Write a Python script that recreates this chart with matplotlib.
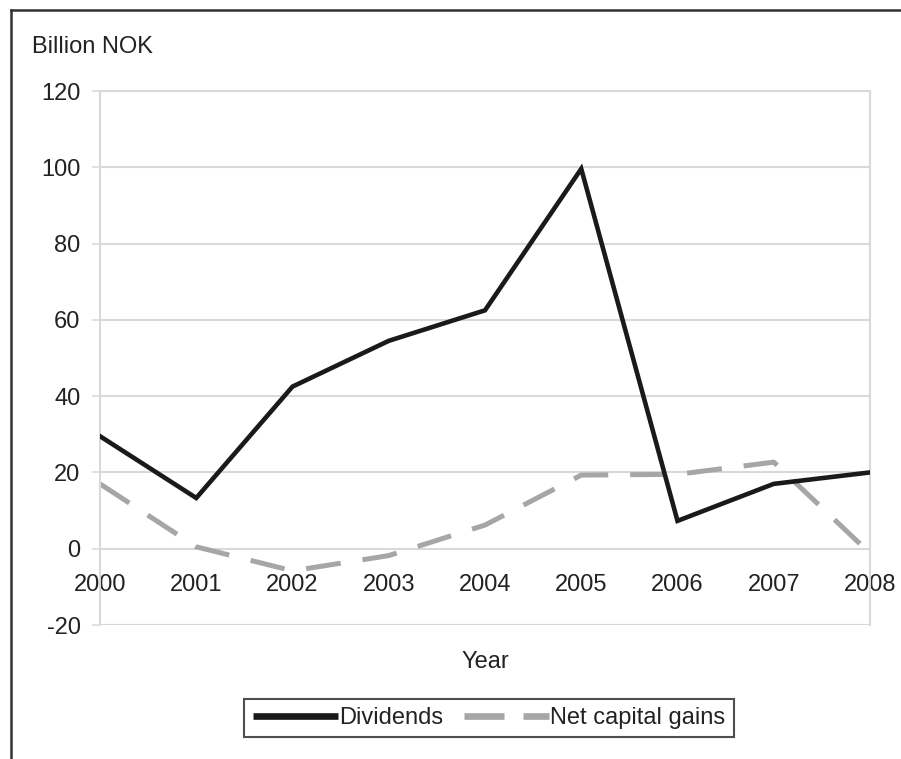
import matplotlib
matplotlib.use("Agg")
import matplotlib.pyplot as plt
from matplotlib.lines import Line2D

plt.rcParams['font.family'] = ['Liberation Sans', 'DejaVu Sans']
plt.rcParams['axes.unicode_minus'] = False

years = [2000, 2001, 2002, 2003, 2004, 2005, 2006, 2007, 2008]
dividends = [29.5, 13.3, 42.5, 54.5, 62.5, 99.6, 7.3, 17.0, 20.0]
net_capital_gains = [17.0, 0.5, -5.8, -1.8, 6.2, 19.3, 19.5, 22.7, -1.2]
y_ticks = [-20, 0, 20, 40, 60, 80, 100, 120]
grid_years = [2000, 2002, 2004, 2006, 2008]

W, H = 901, 759
fig = plt.figure(figsize=(W / 100, H / 100), dpi=100)
ax = fig.add_axes([100 / W, 1 - 625 / H, 770 / W, 534 / H])

grid_c = '#d9d9d9'
text_c = '#222222'
fs = 17

ax.plot(years, dividends, color='#1a1a1a', lw=3.3, solid_joinstyle='miter',
        label='Dividends', zorder=3)
ax.plot(years, net_capital_gains, color='#a6a6a6', lw=3.6, dashes=(7, 4.4),
        label='Net capital gains', zorder=2)

ax.set_xlim(2000, 2008)
ax.set_ylim(-20, 120)
ax.set_yticks(y_ticks)
ax.set_xticks(years)
ax.set_xticks(grid_years, minor=True)

for s in ['top', 'right', 'left']:
    ax.spines[s].set_color(grid_c)
    ax.spines[s].set_linewidth(1.5)
ax.spines['bottom'].set_position(('data', 0))
ax.spines['bottom'].set_visible(False)

ax.grid(axis='y', which='major', color=grid_c, lw=1.5)
ax.grid(axis='x', which='minor', color=grid_c, lw=1.5)
ax.grid(axis='x', which='major', visible=False)
ax.axhline(-20, color=grid_c, lw=1.5, zorder=0)

ax.tick_params(axis='y', length=6, width=1.1, color=grid_c, pad=8,
               labelsize=fs, labelcolor=text_c)
ax.tick_params(axis='x', which='both', length=0, pad=18, labelsize=fs,
               labelcolor=text_c)

fig.text(485 / W, 1 - 662 / H, 'Year', ha='center', va='center',
         fontsize=fs, color=text_c)
fig.text(32 / W, 1 - 47 / H, 'Billion NOK', ha='left', va='center',
         fontsize=fs, color=text_c)

leg = fig.legend(loc='center', bbox_to_anchor=(489 / W, 1 - 718 / H),
                 ncol=2, frameon=True, fancybox=False, fontsize=fs,
                 handlelength=3.6, handletextpad=0.05, columnspacing=0.9,
                 borderpad=0.35, labelcolor=text_c)
leg.get_frame().set_edgecolor('#222222')
leg.get_frame().set_linewidth(1.5)
hl = leg.get_lines()
for h in hl:
    h.set_linewidth(4.8)
    h.set_solid_capstyle('butt')
    h.set_dash_capstyle('butt')
hl[1].set_dashes((6, 2.85))

fig.add_artist(Line2D([11 / W, 1], [1 - 10 / H, 1 - 10 / H],
                      transform=fig.transFigure, color='#333333', lw=1.8))
fig.add_artist(Line2D([11 / W, 11 / W], [0, 1 - 10 / H],
                      transform=fig.transFigure, color='#333333', lw=1.8))

fig.savefig('out.png', dpi=100)
